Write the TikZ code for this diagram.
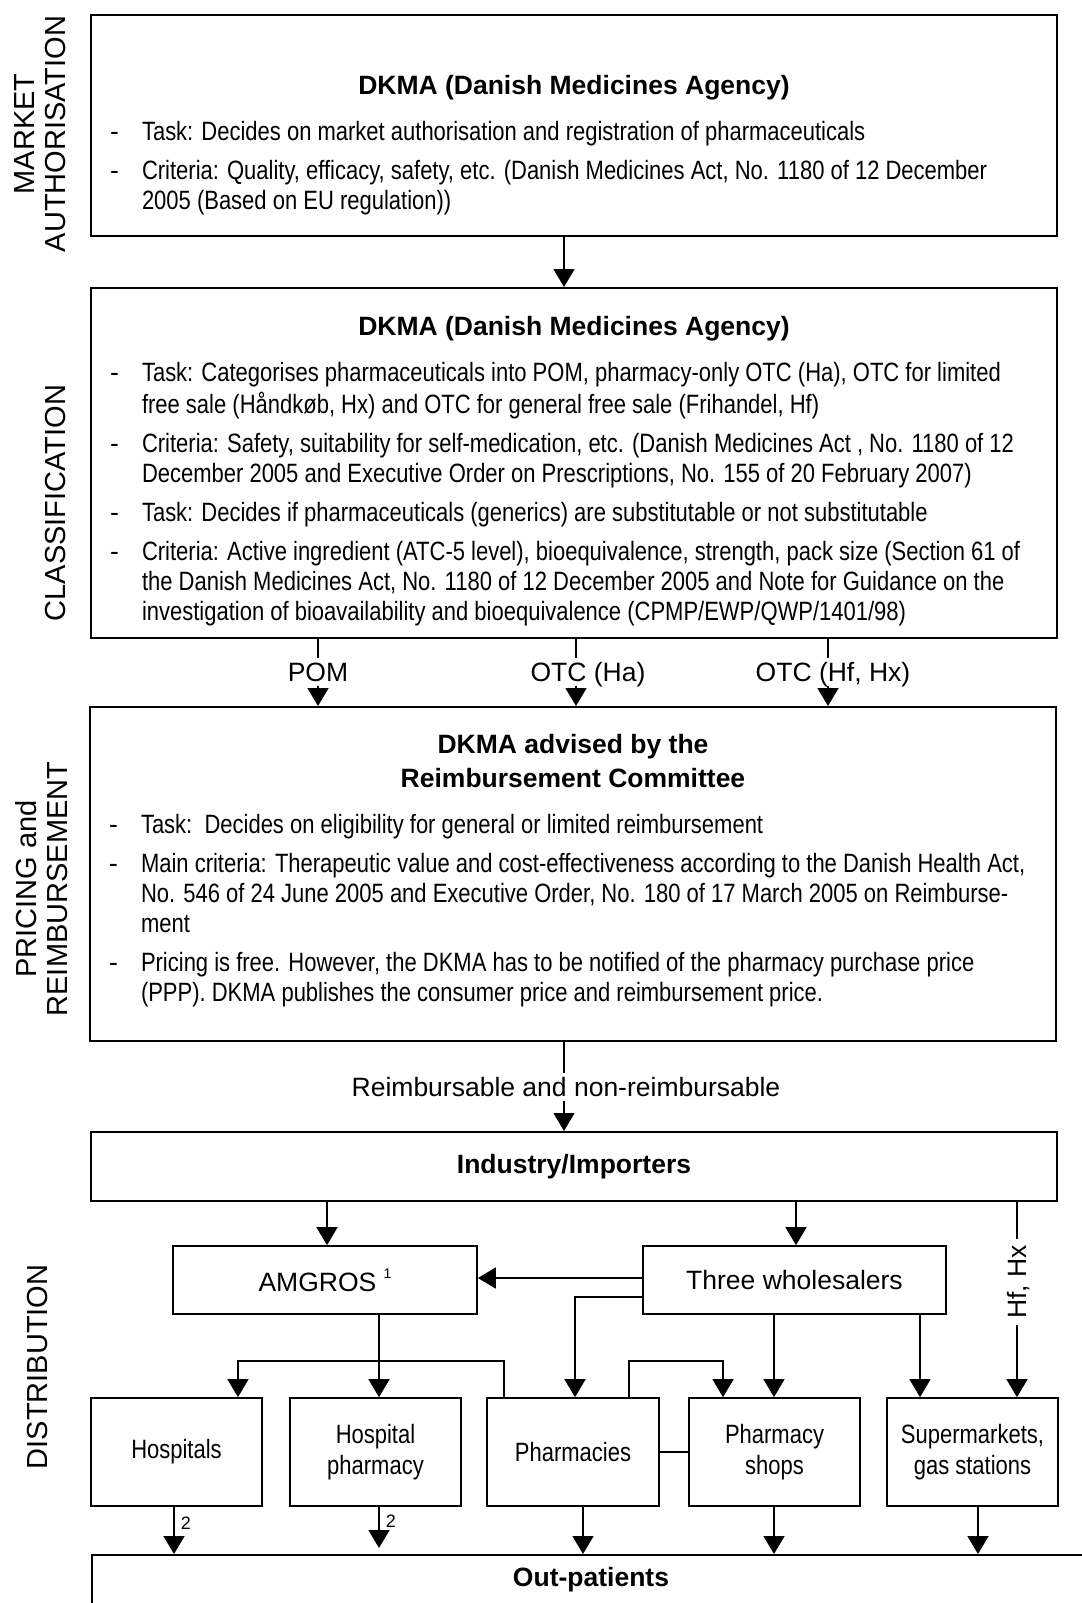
\documentclass[tikz,border=0pt]{standalone}
\usepackage{fontspec}
\setmainfont{Liberation Sans}
\newfontfamily\narrowfont[FakeStretch=0.83]{Liberation Sans}
\usetikzlibrary{arrows.meta,positioning}

\newlength\px
\setlength\px{0.5pt}

% body of a large box: height, top gap, content
\newcommand\boxbody[3]{%
  \begin{minipage}[t][#1\px][t]{966\px}%
  \fontsize{13.25}{15}\selectfont
  \setlength\parindent{0pt}\setlength\parskip{9\px}%
  \vspace*{#2\px}#3%
  \end{minipage}}
\newcommand\boxtitle[1]{{\centering\bfseries\strut#1\par}\vspace{7\px}}
\newcommand\boxitem[1]{{\narrowfont\leftskip=51\px\rightskip=-200\px plus 1fil
  \noindent\llap{\makebox[32\px][l]{\normalfont -}}\strut#1\par}}

\begin{document}
\begin{tikzpicture}[x=0.5pt,y=-0.5pt,
  font=\fontsize{13.25}{15}\selectfont,
  bigbox/.style={draw,line width=1pt,inner sep=0pt},
  unit/.style={draw,line width=0.85pt,inner sep=0pt,align=center},
  outlet/.style={unit,minimum width=85.5pt,minimum height=54pt,
    font=\narrowfont\fontsize{13.25}{15.5}\selectfont},
  flow/.style={line width=0.75pt,-{Triangle[length=9pt,width=10.5pt]}},
  link/.style={line width=0.75pt},
  tag/.style={inner sep=2pt,text height=9.5pt,text depth=0pt},
  side/.style={rotate=90,align=center,font=\fontsize{14.5}{15.5}\selectfont},
  fnote/.style={right,inner sep=3pt,font=\fontsize{9}{10}\selectfont}]

\useasboundingbox (0,0) rectangle (1082,1603);

% stage labels
\node[side] (mktlab) at (40,134) {MARKET\\AUTHORISATION};
\node[side] (clslab) at (56,503) {CLASSIFICATION};
\node[side] (prclab) at (42,889) {PRICING and\\REIMBURSEMENT};
\node[side] (dstlab) at (38,1367) {DISTRIBUTION};

% market authorisation
\node[bigbox] (mkt) at (574,125.5) {\boxbody{221}{58}{%
  \boxtitle{DKMA (Danish Medicines Agency)}%
  \boxitem{Task: Decides on market authorisation and registration of pharmaceuticals}%
  \boxitem{Criteria: Quality, efficacy, safety, etc. (Danish Medicines Act, No. 1180 of 12 December\\2005 (Based on EU regulation))}}};

% classification
\node[bigbox] (cls) at (574,463) {\boxbody{350}{26}{%
  \boxtitle{DKMA (Danish Medicines Agency)}%
  \boxitem{Task: Categorises pharmaceuticals into POM, pharmacy-only OTC (Ha), OTC for limited\\free sale (Håndkøb, Hx) and OTC for general free sale (Frihandel, Hf)}%
  \boxitem{Criteria: Safety, suitability for self-medication, etc. (Danish Medicines Act , No. 1180 of 12\\December 2005 and Executive Order on Prescriptions, No. 155 of 20 February 2007)}%
  \boxitem{Task: Decides if pharmaceuticals (generics) are substitutable or not substitutable}%
  \boxitem{Criteria: Active ingredient (ATC-5 level), bioequivalence, strength, pack size (Section 61 of\\the Danish Medicines Act, No. 1180 of 12 December 2005 and Note for Guidance on the\\investigation of bioavailability and bioequivalence (CPMP/EWP/QWP/1401/98)}}};

% pricing and reimbursement
\node[bigbox] (prc) at (573,874) {\boxbody{334}{25}{%
  \boxtitle{DKMA advised by the\\[4\px]Reimbursement Committee}%
  \boxitem{Task:\ \ Decides on eligibility for general or limited reimbursement}%
  \boxitem{Main criteria: Therapeutic value and cost-effectiveness according to the Danish Health Act,\\No. 546 of 24 June 2005 and Executive Order, No. 180 of 17 March 2005 on Reimburse-\\ment}%
  \boxitem{Pricing is free. However, the DKMA has to be notified of the pharmacy purchase price\\(PPP). DKMA publishes the consumer price and reimbursement price.}}};

% classification outcomes
\coordinate (ax) at (564,0);
\coordinate (xpom) at (318,0);
\coordinate (xha) at (576,0);
\coordinate (xhf) at (828,0);
\draw[flow] (mkt.south -| ax) -- (cls.north -| ax);
\node[tag] (pom) at (318,672) {POM};
\node[tag] (otcha) at (588,672) {OTC (Ha)};
\node[tag] (otchf) at (833,672) {OTC (Hf, Hx)};
\draw[link] (cls.south -| xpom) -- (pom.north -| xpom);
\draw[flow] (pom.south -| xpom) -- (prc.north -| xpom);
\draw[link] (cls.south -| xha) -- (otcha.north -| xha);
\draw[flow] (otcha.south -| xha) -- (prc.north -| xha);
\draw[link] (cls.south -| xhf) -- (otchf.north -| xhf);
\draw[flow] (otchf.south -| xhf) -- (prc.north -| xhf);

% distribution
\node[tag] (reimb) at (566,1087) {Reimbursable and non-reimbursable};
\node[bigbox,minimum width=483pt,minimum height=34.5pt] (ind) at (574,1166.5) {\bfseries Industry/Importers};
\draw[link] (prc.south -| ax) -- (reimb.north -| ax);
\draw[flow] (reimb.south -| ax) -- (ind.north -| ax);

\node[unit,minimum width=152pt,minimum height=34pt] (amgros) at (325,1280) {AMGROS \raisebox{6.5pt}{\fontsize{7}{8}\selectfont 1}};
\node[unit,minimum width=151.5pt,minimum height=34pt] (whole) at (794.5,1280) {Three wholesalers};
\node[tag,rotate=90,inner xsep=3pt] (hfx) at (1017,1282) {Hf, Hx};

\node[outlet] (hosp) at (176.5,1452) {Hospitals};
\node[outlet] (hph) at (375.5,1452) {Hospital\\pharmacy};
\node[outlet,minimum width=86pt] (phm) at (573,1452) {Pharmacies};
\node[outlet] (shops) at (774.5,1452) {Pharmacy\\shops};
\node[outlet] (super) at (972.5,1452) {Supermarkets,\\gas stations};
\node[bigbox,minimum width=499pt,minimum height=25pt] (out) at (591,1580) {\bfseries Out-patients};

\coordinate (xam) at (327,0);
\coordinate (xwh) at (796,0);
\coordinate (yw1) at (0,1278);
\coordinate (yw2) at (0,1297);
\coordinate (xph) at (575,0);
\coordinate (xsh) at (774,0);
\coordinate (xsu) at (920,0);
\coordinate (xhp) at (379,0);
\coordinate (yr) at (0,1361);
\coordinate (xph1) at (504,0);
\coordinate (xho) at (238,0);
\coordinate (xph2) at (629,0);
\coordinate (xsh1) at (723,0);
\coordinate (xhs) at (174,0);
\coordinate (xpo) at (583,0);
\coordinate (xso) at (978,0);

\draw[flow] (ind.south -| xam) -- (amgros.north -| xam);
\draw[flow] (ind.south -| xwh) -- (whole.north -| xwh);
\draw[link] (ind.south -| hfx.east) -- (hfx.east);
\draw[flow] (hfx.west) -- (super.north -| hfx.west);
\draw[flow] (whole.west |- yw1) -- (amgros.east |- yw1);
\draw[flow] (whole.west |- yw2) -| (phm.north -| xph);
\draw[flow] (whole.south -| xsh) -- (shops.north -| xsh);
\draw[flow] (whole.south -| xsu) -- (super.north -| xsu);
\draw[flow] (amgros.south -| xhp) -- (hph.north -| xhp);
\draw[flow] (phm.north -| xph1) |- (xho |- yr) -- (hosp.north -| xho);
\draw[flow] (phm.north -| xph2) |- (xsh1 |- yr) -- (shops.north -| xsh1);
\draw[link] (phm.east) -- (shops.west);

% to out-patients
\draw[flow] (hosp.south -| xhs) -- (out.north -| xhs) node[fnote,pos=.35] (fn1) {2};
\draw[flow,shorten >=3pt] (hph.south -| xhp) -- (out.north -| xhp) node[fnote,pos=.3] (fn2) {2};
\draw[flow] (phm.south -| xpo) -- (out.north -| xpo);
\draw[flow] (shops.south -| xsh) -- (out.north -| xsh);
\draw[flow] (super.south -| xso) -- (out.north -| xso);
\end{tikzpicture}
\end{document}
